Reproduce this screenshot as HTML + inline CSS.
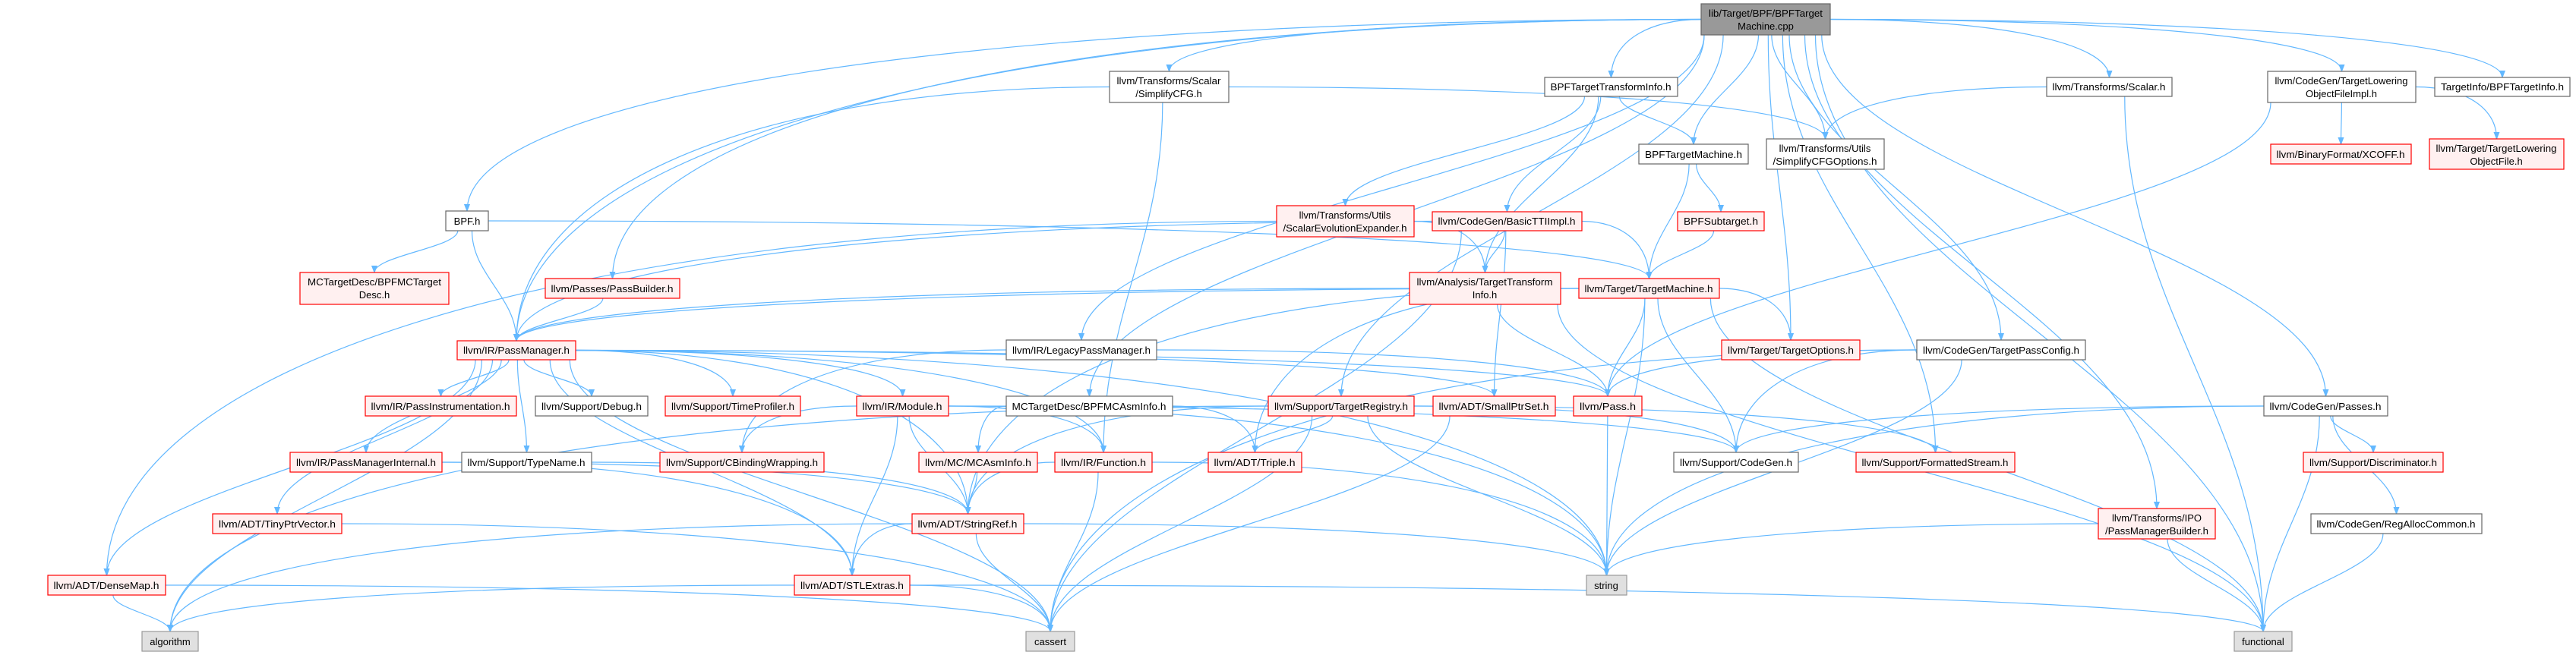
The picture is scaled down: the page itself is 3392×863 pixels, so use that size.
<!DOCTYPE html>
<html><head><meta charset="utf-8">
<style>
html,body{margin:0;padding:0;background:#fff;}
svg{display:block;}
text{font-family:"Liberation Sans",sans-serif;font-size:13px;fill:#000;}
.r rect{fill:#fff0f0;stroke:#ff0000;stroke-width:1.2;}
.w rect{fill:#fff;stroke:#666;stroke-width:1.2;}
.g rect{fill:#e0e0e0;stroke:#999;stroke-width:1.2;}
.m rect{fill:#999;stroke:#666;stroke-width:1.2;}
</style></head><body>
<svg id="s" width="3392" height="863" viewBox="0 0 3392 863" xmlns="http://www.w3.org/2000/svg">
<defs><marker id="a" markerWidth="10" markerHeight="10" refX="9" refY="5" orient="auto" markerUnits="userSpaceOnUse"><path d="M0,1.5 L9,5 L0,8.5 z" fill="#63b8ff" stroke="#63b8ff"/></marker></defs>
<g id="edges" fill="none" stroke="#63b8ff" stroke-width="1.2"></g>
<g id="nodes">
<g id="main" class="m"><rect x="2240" y="5" width="170" height="41"/><text x="2325" y="22" text-anchor="middle" textLength="150" lengthAdjust="spacingAndGlyphs">lib/Target/BPF/BPFTarget</text><text x="2325" y="39" text-anchor="middle">Machine.cpp</text></g>
<g id="bpfh" class="w"><rect x="587" y="278" width="56" height="26"/><text x="615" y="296" text-anchor="middle">BPF.h</text></g>
<g id="mctd" class="r"><rect x="395" y="359" width="196" height="42"/><text x="493" y="376" text-anchor="middle" textLength="176" lengthAdjust="spacingAndGlyphs">MCTargetDesc/BPFMCTarget</text><text x="493" y="393" text-anchor="middle">Desc.h</text></g>
<g id="pb" class="r"><rect x="718" y="367" width="177" height="26"/><text x="806" y="385" text-anchor="middle" textLength="161" lengthAdjust="spacingAndGlyphs">llvm/Passes/PassBuilder.h</text></g>
<g id="scfg" class="w"><rect x="1461" y="94" width="157" height="41"/><text x="1539" y="111" text-anchor="middle" textLength="137" lengthAdjust="spacingAndGlyphs">llvm/Transforms/Scalar</text><text x="1539" y="128" text-anchor="middle">/SimplifyCFG.h</text></g>
<g id="btti" class="w"><rect x="2034" y="102" width="175" height="25"/><text x="2121" y="119" text-anchor="middle" textLength="159" lengthAdjust="spacingAndGlyphs">BPFTargetTransformInfo.h</text></g>
<g id="btm" class="w"><rect x="2158" y="190" width="144" height="26"/><text x="2230" y="208" text-anchor="middle" textLength="128" lengthAdjust="spacingAndGlyphs">BPFTargetMachine.h</text></g>
<g id="see" class="r"><rect x="1681" y="271" width="181" height="41"/><text x="1771" y="288" text-anchor="middle">llvm/Transforms/Utils</text><text x="1771" y="305" text-anchor="middle" textLength="163" lengthAdjust="spacingAndGlyphs">/ScalarEvolutionExpander.h</text></g>
<g id="basic" class="r"><rect x="1886" y="279" width="197" height="25"/><text x="1984" y="296" text-anchor="middle" textLength="181" lengthAdjust="spacingAndGlyphs">llvm/CodeGen/BasicTTIImpl.h</text></g>
<g id="bsub" class="r"><rect x="2209" y="279" width="114" height="25"/><text x="2266" y="296" text-anchor="middle" textLength="98" lengthAdjust="spacingAndGlyphs">BPFSubtarget.h</text></g>
<g id="tti" class="r"><rect x="1856" y="359" width="199" height="42"/><text x="1955" y="376" text-anchor="middle" textLength="179" lengthAdjust="spacingAndGlyphs">llvm/Analysis/TargetTransform</text><text x="1955" y="393" text-anchor="middle">Info.h</text></g>
<g id="tm" class="r"><rect x="2079" y="367" width="185" height="26"/><text x="2171" y="385" text-anchor="middle" textLength="169" lengthAdjust="spacingAndGlyphs">llvm/Target/TargetMachine.h</text></g>
<g id="scfgo" class="w"><rect x="2326" y="183" width="155" height="40"/><text x="2403" y="200" text-anchor="middle">llvm/Transforms/Utils</text><text x="2403" y="217" text-anchor="middle" textLength="137" lengthAdjust="spacingAndGlyphs">/SimplifyCFGOptions.h</text></g>
<g id="scalar" class="w"><rect x="2695" y="102" width="165" height="25"/><text x="2777" y="119" text-anchor="middle" textLength="149" lengthAdjust="spacingAndGlyphs">llvm/Transforms/Scalar.h</text></g>
<g id="tlofi" class="w"><rect x="2986" y="94" width="195" height="41"/><text x="3083" y="111" text-anchor="middle" textLength="175" lengthAdjust="spacingAndGlyphs">llvm/CodeGen/TargetLowering</text><text x="3083" y="128" text-anchor="middle">ObjectFileImpl.h</text></g>
<g id="bti" class="w"><rect x="3206" y="102" width="178" height="25"/><text x="3295" y="119" text-anchor="middle" textLength="162" lengthAdjust="spacingAndGlyphs">TargetInfo/BPFTargetInfo.h</text></g>
<g id="xcoff" class="r"><rect x="2990" y="190" width="185" height="26"/><text x="3082" y="208" text-anchor="middle" textLength="169" lengthAdjust="spacingAndGlyphs">llvm/BinaryFormat/XCOFF.h</text></g>
<g id="tlof" class="r"><rect x="3199" y="183" width="177" height="40"/><text x="3287" y="200" text-anchor="middle" textLength="159" lengthAdjust="spacingAndGlyphs">llvm/Target/TargetLowering</text><text x="3287" y="217" text-anchor="middle">ObjectFile.h</text></g>
<g id="pm" class="r"><rect x="602" y="449" width="156" height="25"/><text x="680" y="466" text-anchor="middle" textLength="140" lengthAdjust="spacingAndGlyphs">llvm/IR/PassManager.h</text></g>
<g id="pi" class="r"><rect x="481" y="522" width="199" height="26"/><text x="580" y="540" text-anchor="middle" textLength="183" lengthAdjust="spacingAndGlyphs">llvm/IR/PassInstrumentation.h</text></g>
<g id="dbg" class="w"><rect x="705" y="522" width="148" height="26"/><text x="779" y="540" text-anchor="middle" textLength="132" lengthAdjust="spacingAndGlyphs">llvm/Support/Debug.h</text></g>
<g id="tp" class="r"><rect x="876" y="522" width="178" height="26"/><text x="965" y="540" text-anchor="middle" textLength="162" lengthAdjust="spacingAndGlyphs">llvm/Support/TimeProfiler.h</text></g>
<g id="pmi" class="r"><rect x="382" y="596" width="200" height="26"/><text x="482" y="614" text-anchor="middle" textLength="184" lengthAdjust="spacingAndGlyphs">llvm/IR/PassManagerInternal.h</text></g>
<g id="tn" class="w"><rect x="608" y="596" width="171" height="26"/><text x="693" y="614" text-anchor="middle" textLength="155" lengthAdjust="spacingAndGlyphs">llvm/Support/TypeName.h</text></g>
<g id="cbw" class="r"><rect x="869" y="596" width="216" height="26"/><text x="977" y="614" text-anchor="middle" textLength="200" lengthAdjust="spacingAndGlyphs">llvm/Support/CBindingWrapping.h</text></g>
<g id="tpv" class="r"><rect x="280" y="677" width="170" height="26"/><text x="365" y="695" text-anchor="middle" textLength="154" lengthAdjust="spacingAndGlyphs">llvm/ADT/TinyPtrVector.h</text></g>
<g id="dm" class="r"><rect x="63" y="758" width="155" height="26"/><text x="140" y="776" text-anchor="middle" textLength="139" lengthAdjust="spacingAndGlyphs">llvm/ADT/DenseMap.h</text></g>
<g id="alg" class="g"><rect x="187" y="832" width="74" height="26"/><text x="224" y="850" text-anchor="middle">algorithm</text></g>
<g id="stl" class="r"><rect x="1046" y="758" width="152" height="26"/><text x="1122" y="776" text-anchor="middle" textLength="136" lengthAdjust="spacingAndGlyphs">llvm/ADT/STLExtras.h</text></g>
<g id="lpm" class="w"><rect x="1325" y="448" width="198" height="26"/><text x="1424" y="466" text-anchor="middle" textLength="182" lengthAdjust="spacingAndGlyphs">llvm/IR/LegacyPassManager.h</text></g>
<g id="mod" class="r"><rect x="1128" y="522" width="121" height="26"/><text x="1188" y="540" text-anchor="middle" textLength="105" lengthAdjust="spacingAndGlyphs">llvm/IR/Module.h</text></g>
<g id="mcai" class="w"><rect x="1325" y="522" width="219" height="26"/><text x="1434" y="540" text-anchor="middle" textLength="203" lengthAdjust="spacingAndGlyphs">MCTargetDesc/BPFMCAsmInfo.h</text></g>
<g id="treg" class="r"><rect x="1670" y="522" width="192" height="26"/><text x="1766" y="540" text-anchor="middle" textLength="176" lengthAdjust="spacingAndGlyphs">llvm/Support/TargetRegistry.h</text></g>
<g id="sps" class="r"><rect x="1887" y="522" width="161" height="26"/><text x="1967" y="540" text-anchor="middle" textLength="145" lengthAdjust="spacingAndGlyphs">llvm/ADT/SmallPtrSet.h</text></g>
<g id="pass" class="r"><rect x="2072" y="522" width="90" height="26"/><text x="2117" y="540" text-anchor="middle" textLength="74" lengthAdjust="spacingAndGlyphs">llvm/Pass.h</text></g>
<g id="mca" class="r"><rect x="1210" y="596" width="156" height="26"/><text x="1288" y="614" text-anchor="middle" textLength="140" lengthAdjust="spacingAndGlyphs">llvm/MC/MCAsmInfo.h</text></g>
<g id="fn" class="r"><rect x="1389" y="596" width="128" height="26"/><text x="1453" y="614" text-anchor="middle" textLength="112" lengthAdjust="spacingAndGlyphs">llvm/IR/Function.h</text></g>
<g id="tri" class="r"><rect x="1591" y="596" width="123" height="26"/><text x="1652" y="614" text-anchor="middle" textLength="107" lengthAdjust="spacingAndGlyphs">llvm/ADT/Triple.h</text></g>
<g id="cg" class="w"><rect x="2204" y="596" width="164" height="26"/><text x="2286" y="614" text-anchor="middle" textLength="148" lengthAdjust="spacingAndGlyphs">llvm/Support/CodeGen.h</text></g>
<g id="sr" class="r"><rect x="1201" y="677" width="147" height="26"/><text x="1274" y="695" text-anchor="middle" textLength="131" lengthAdjust="spacingAndGlyphs">llvm/ADT/StringRef.h</text></g>
<g id="str" class="g"><rect x="2089" y="758" width="53" height="26"/><text x="2115" y="776" text-anchor="middle">string</text></g>
<g id="cas" class="g"><rect x="1351" y="832" width="64" height="26"/><text x="1383" y="850" text-anchor="middle">cassert</text></g>
<g id="topt" class="r"><rect x="2267" y="448" width="182" height="26"/><text x="2358" y="466" text-anchor="middle" textLength="166" lengthAdjust="spacingAndGlyphs">llvm/Target/TargetOptions.h</text></g>
<g id="tpc" class="w"><rect x="2524" y="448" width="222" height="26"/><text x="2635" y="466" text-anchor="middle" textLength="206" lengthAdjust="spacingAndGlyphs">llvm/CodeGen/TargetPassConfig.h</text></g>
<g id="cgp" class="w"><rect x="2981" y="522" width="163" height="26"/><text x="3062" y="540" text-anchor="middle" textLength="147" lengthAdjust="spacingAndGlyphs">llvm/CodeGen/Passes.h</text></g>
<g id="fs" class="r"><rect x="2444" y="596" width="209" height="26"/><text x="2548" y="614" text-anchor="middle" textLength="193" lengthAdjust="spacingAndGlyphs">llvm/Support/FormattedStream.h</text></g>
<g id="disc" class="r"><rect x="3033" y="596" width="184" height="26"/><text x="3125" y="614" text-anchor="middle" textLength="168" lengthAdjust="spacingAndGlyphs">llvm/Support/Discriminator.h</text></g>
<g id="pmb" class="r"><rect x="2763" y="670" width="154" height="40"/><text x="2840" y="687" text-anchor="middle">llvm/Transforms/IPO</text><text x="2840" y="704" text-anchor="middle" textLength="136" lengthAdjust="spacingAndGlyphs">/PassManagerBuilder.h</text></g>
<g id="rac" class="w"><rect x="3043" y="677" width="225" height="26"/><text x="3155" y="695" text-anchor="middle" textLength="209" lengthAdjust="spacingAndGlyphs">llvm/CodeGen/RegAllocCommon.h</text></g>
<g id="func" class="g"><rect x="2942" y="832" width="76" height="26"/><text x="2980" y="850" text-anchor="middle">functional</text></g>
</g>
</svg>
<script>
(function(){
var E=[
["main","bpfh"],["main","pm"],["main","pb"],["main","scfg"],["main","lpm"],["main","mcai"],["main","btti"],["main","btm"],["main","scfgo"],["main","treg"],["main","topt"],["main","tpc"],["main","fs"],["main","scalar"],["main","tlofi"],["main","bti"],["main","cgp"],["main","pmb"],["main","func"],
["bpfh","mctd"],["bpfh","pm"],["bpfh","tm"],["pb","pm"],
["scfg","pm"],["scfg","scfgo"],["scfg","fn"],
["btti","see"],["btti","basic"],["btti","tti"],["btti","btm"],
["btm","bsub"],["btm","tm"],["bsub","tm"],
["see","tti"],["see","dm"],
["basic","tti"],["basic","tm"],["basic","sps"],["basic","pm"],["basic","cas"],
["tti","pm"],["tti","pass"],["tti","func"],
["tm","pm"],["tm","topt"],["tm","pass"],["tm","cg"],["tm","tri"],["tm","sr"],["tm","str"],["tm","func"],
["scalar","scfgo"],["scalar","func"],
["tlofi","xcoff"],["tlofi","tlof"],["tlofi","pass"],
["pm","pi"],["pm","dbg"],["pm","tp"],["pm","pmi"],["pm","tn"],["pm","tpv"],["pm","dm"],["pm","alg"],["pm","stl"],["pm","mod"],["pm","fn"],["pm","sr"],["pm","cas"],["pm","sps"],["pm","pass"],["pm","str"],
["lpm","pass"],["lpm","cbw"],
["mod","fn"],["mod","sr"],["mod","stl"],["mod","cbw"],["mod","cg"],["mod","str"],
["mcai","mca"],["mcai","tri"],["mca","sr"],
["fn","sr"],["fn","cas"],["fn","str"],
["treg","tri"],["treg","sr"],["treg","cas"],["treg","str"],["treg","cg"],["treg","fs"],["treg","alg"],
["sps","cas"],["pass","str"],
["sr","stl"],["sr","cas"],["sr","str"],["sr","alg"],
["stl","alg"],["stl","cas"],["stl","func"],
["tpv","cas"],["dm","alg"],["dm","cas"],
["pmi","stl"],["pmi","sr"],["tn","sr"],
["tpc","cg"],["tpc","pass"],["tpc","str"],["tpc","cas"],
["cgp","cg"],["cgp","disc"],["cgp","rac"],["cgp","func"],["cgp","str"],
["rac","func"],["pmb","func"],["pmb","str"]
];
function B(id){var r=document.querySelector('#'+id+' rect');var x=+r.getAttribute('x'),y=+r.getAttribute('y'),w=+r.getAttribute('width'),h=+r.getAttribute('height');return {x:x,y:y,w:w,h:h,cx:x+w/2,cy:y+h/2};}
var g=document.getElementById('edges'),ns='http://www.w3.org/2000/svg';
E.forEach(function(e){var a=B(e[0]),b=B(e[1]),d;
 if(b.y>a.y+a.h+2){
   var tx=b.cx,ty=b.y,dxr=b.cx-a.cx,dyr=b.y-(a.y+a.h);
   if(Math.abs(dxr)>2.5*dyr){
     var sx=dxr<0?a.x:a.x+a.w,sy=a.cy;
     d='M'+sx+','+sy+' C'+(sx+(tx-sx)*0.6)+','+sy+' '+tx+','+(ty-(ty-sy)*0.6)+' '+tx+','+ty;
   } else {
     var sx=Math.max(a.x+4,Math.min(a.x+a.w-4,a.cx+dxr*0.1)),sy=a.y+a.h;
     var dy=ty-sy;d='M'+sx+','+sy+' C'+sx+','+(sy+dy*0.4)+' '+tx+','+(ty-dy*0.4)+' '+tx+','+ty;
   }}
 else if(b.y+b.h<a.y-2){var sx=a.cx,sy=a.y,tx=b.cx,ty=b.y+b.h;d='M'+sx+','+sy+' L'+tx+','+ty;}
 else{var sx,tx;if(b.cx>a.cx){sx=a.x+a.w;tx=b.x;}else{sx=a.x;tx=b.x+b.w;}d='M'+sx+','+a.cy+' L'+tx+','+b.cy;}
 var p=document.createElementNS(ns,'path');p.setAttribute('d',d);p.setAttribute('marker-end','url(#a)');g.appendChild(p);});
})();
</script>
</body></html>
